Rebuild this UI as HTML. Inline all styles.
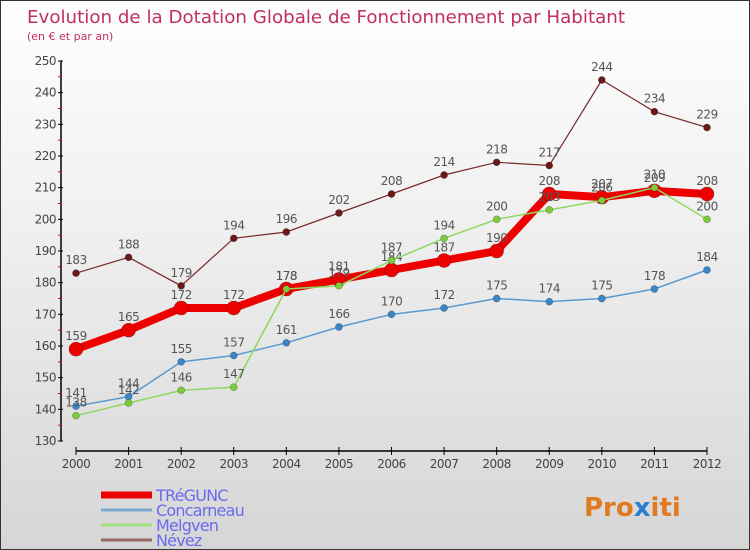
<!DOCTYPE html>
<html><head><meta charset="utf-8"><style>
body{margin:0}
#c{width:748px;height:548px;border:1px solid #333;background:linear-gradient(#fefefe,#f0f0f0 40%,#d6d6d6);position:relative;font-family:"DejaVu Sans","Liberation Sans",sans-serif;overflow:hidden}
</style></head><body>
<div id="c">
<svg id="s" width="748" height="548" style="position:absolute;left:0;top:0">
<text x="26" y="22" font-size="18" fill="#c0305a" textLength="598" lengthAdjust="spacingAndGlyphs">Evolution de la Dotation Globale de Fonctionnement par Habitant</text>
<text x="26" y="39" font-size="11" fill="#c0305a">(en € et par an)</text>
<text x="583" y="515" font-size="26" font-weight="bold" fill="#e07a20">Pro<tspan fill="#2a7fd0">x</tspan>iti</text>
</svg>
</div>
<script>
const years=[2000,2001,2002,2003,2004,2005,2006,2007,2008,2009,2010,2011,2012];
const yTicks=[130,140,150,160,170,180,190,200,210,220,230,240,250];
const tregunc=[159,165,172,172,178,181,184,187,190,208,207,209,208];
const concarneau=[141,144,155,157,161,166,170,172,175,174,175,178,184];
const melgven=[138,142,146,147,178,179,187,194,200,203,206,210,200];
const nevez=[183,188,179,194,196,202,208,214,218,217,244,234,229];
const NS='http://www.w3.org/2000/svg';
const s=document.getElementById('s');
const X=i=>75+i*(706-75)/12;
const Y=v=>440-(v-130)*(380/120);
function mk(t,a,p){const e=document.createElementNS(NS,t);for(const k in a)e.setAttribute(k,a[k]);(p||s).appendChild(e);return e;}
let ax=mk('line',{x1:60,y1:60,x2:60,y2:440,stroke:'#000','stroke-width':1.5});


let xa=mk('line',{x1:75,y1:450,x2:706,y2:450,stroke:'#000','stroke-width':1.5});


yTicks.forEach((v,i)=>{
 mk('line',{x1:57,y1:Y(v),x2:62,y2:Y(v),stroke:'#000'});
 if(i<yTicks.length-1) mk('line',{x1:57,y1:Y(v+5),x2:60,y2:Y(v+5),stroke:'#e00'});
 let t=mk('text',{x:55,y:Y(v)+4,'font-size':12,'text-anchor':'end',fill:'#444','letter-spacing':'-0.5'});t.textContent=v;
 
 
});
years.forEach((y,i)=>{
 mk('line',{x1:X(i),y1:446,x2:X(i),y2:454,stroke:'#000'});
 let t=mk('text',{x:X(i),y:467,'font-size':12,'text-anchor':'middle',fill:'#444','letter-spacing':'-0.5'});t.textContent=y;
 
 
});
function series(d,col,w,r,fill,name){
 const g=mk('g',{});
 
 
 mk('polyline',{points:d.map((v,i)=>X(i)+','+Y(v)).join(' '),fill:'none',stroke:col,'stroke-width':w},g);
 d.forEach((v,i)=>{
  const c=mk('circle',{cx:X(i),cy:Y(v),r:r,fill:fill,stroke:'rgba(0,0,0,0.3)','stroke-width':0.7},g);
  
  
  const t=mk('text',{x:X(i),y:Y(v)-9,'font-size':12,'text-anchor':'middle',fill:'#555','letter-spacing':'-0.5'},g);t.textContent=v;
  
  
 });
}
series(nevez,'#7a2a2a',1.2,3.5,'#6a1a1a','nevez');
series(concarneau,'#5a9ad0',1.5,3.5,'#3a86c8','concarneau');
series(tregunc,'#ee0000',8,7,'#ee0000','tregunc');
series(melgven,'#8ed860',1.5,3.5,'#7ccc3c','melgven');
const leg=[['TRéGUNC','#ee0000',7],['Concarneau','#7aaad0',3],['Melgven','#a0e080',3],['Névez','#9a6a6a',3]];
leg.forEach((l,i)=>{
 const y=494+i*15;
 const g=mk('g',{});
 
 
 mk('line',{x1:100,y1:y,x2:151,y2:y,stroke:l[1],'stroke-width':l[2]},g);
 const t=mk('text',{x:155,y:y+6,'font-size':16,fill:'#6a6aee','letter-spacing':'-0.8'},g);t.textContent=l[0];
});
</script>
</body></html>
